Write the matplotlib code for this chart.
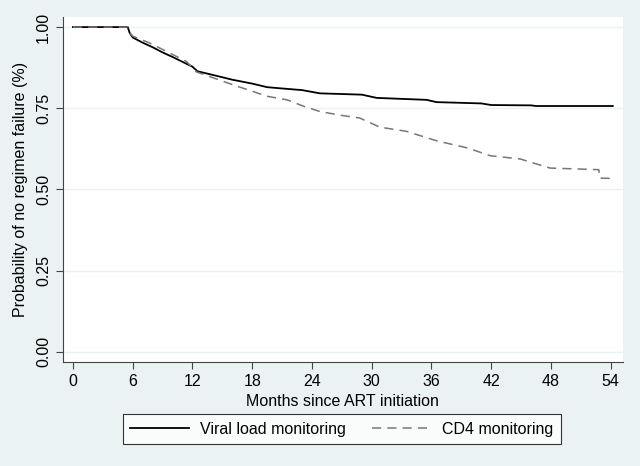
import matplotlib
matplotlib.use("Agg")
import matplotlib.pyplot as plt

# Viral load monitoring (solid)
vl_t = [0, 5.5, 5.7, 6.0, 7.0, 8.0, 9.0, 10.0, 11.0, 12.0, 12.5, 14.0, 16.0, 18.0, 19.5,
        21.0, 23.0, 24.8, 29.0, 30.5, 35.5, 36.5, 41.0, 42.0, 46.0, 46.5, 54.2]
vl_s = [1.0, 1.0, 0.982, 0.968, 0.952, 0.938, 0.922, 0.908, 0.893, 0.878, 0.864, 0.853,
        0.838, 0.826, 0.815, 0.811, 0.806, 0.796, 0.792, 0.782, 0.776, 0.769, 0.765,
        0.760, 0.759, 0.757, 0.757]

# CD4 monitoring (dashed)
cd4_t = [0, 5.5, 5.7, 6.0, 7.7, 9.4, 11.4, 12.4, 16.1, 19.5, 21.5, 23.1, 24.8, 27.0, 28.8,
         30.8, 33.5, 36.5, 39.6, 41.9, 44.9, 47.9, 52.8, 52.9, 54.2]
cd4_s = [1.0, 1.0, 0.983, 0.972, 0.951, 0.925, 0.894, 0.862, 0.822, 0.787, 0.776, 0.757,
         0.740, 0.728, 0.720, 0.692, 0.679, 0.650, 0.628, 0.604, 0.594, 0.566, 0.561,
         0.535, 0.534]

x_ticks = [0, 6, 12, 18, 24, 30, 36, 42, 48, 54]
y_ticks = [0.0, 0.25, 0.5, 0.75, 1.0]
y_ticklabels = ["0.00", "0.25", "0.50", "0.75", "1.00"]

bg = "#EAF2F3"
plt.rcParams['font.family'] = ['Liberation Sans', 'DejaVu Sans']
fs = 11.5

fig = plt.figure(figsize=(6.4, 4.66), dpi=100, facecolor=bg)
ax = fig.add_axes([0.0984, 0.2232, 0.8746, 0.7403])
ax.set_facecolor("white")

for y in y_ticks:
    ax.axhline(y, color=bg, lw=1.0, zorder=0)

ax.plot(vl_t, vl_s, color="black", lw=1.3, label="Viral load monitoring")
ax.plot(cd4_t, cd4_s, color="#777777", lw=1.1, dashes=(6, 4), label="CD4 monitoring")

ax.set_xlim(-1.0, 55.2)
ax.set_ylim(-0.031, 1.031)
ax.set_xticks(x_ticks)
ax.set_xticklabels([str(v) for v in x_ticks], fontsize=fs)
ax.set_yticks(y_ticks)
ax.set_yticklabels(y_ticklabels, fontsize=fs, rotation=90, va="center")
ax.tick_params(direction="out", length=5, width=0.8, color="#444444")

for s in ["top", "right"]:
    ax.spines[s].set_visible(False)
for s in ["left", "bottom"]:
    ax.spines[s].set_color("#444444")
    ax.spines[s].set_linewidth(0.8)

ax.set_xlabel("Months since ART initiation", fontsize=fs, labelpad=4)
ax.set_ylabel("Probability of no regimen failure (%)", fontsize=fs, labelpad=6)

leg = fig.legend(loc="center", bbox_to_anchor=(0.534, 0.079), ncol=2, fontsize=fs,
                 frameon=True, fancybox=False, edgecolor="black", handlelength=3.7,
                 handletextpad=0.7, columnspacing=1.6, borderpad=0.45,
                 borderaxespad=0)
leg.get_frame().set_linewidth(0.8)

fig.savefig("out.png", dpi=100, facecolor=bg)
